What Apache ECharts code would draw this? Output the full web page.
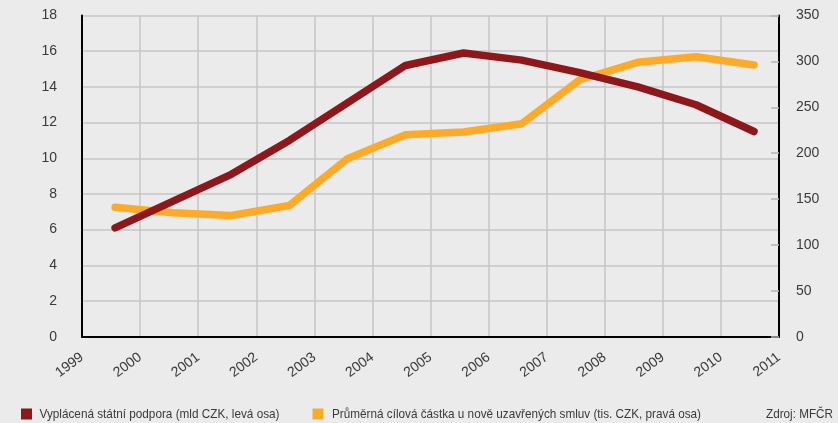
<!DOCTYPE html>
<html>
<head>
<meta charset="utf-8">
<script src="https://cdn.jsdelivr.net/npm/echarts@6/dist/echarts.min.js"></script>
<style>
html,body{margin:0;padding:0;background:#ebebeb;}
#c{width:838px;height:423px;}
</style>
</head>
<body>
<div id="c"></div>
<script>
// Data
var years = [1999, 2000, 2001, 2002, 2003, 2004, 2005, 2006, 2007, 2008, 2009, 2010];
var statePayout = [6.1, 7.6, 9.1, 11.0, 13.1, 15.2, 15.9, 15.5, 14.8, 14.0, 13.0, 11.5];      // mld CZK, left axis
var avgTarget = [141, 135, 132, 143, 194, 220, 223, 232, 280, 299, 305, 296];                  // tis. CZK, right axis
var xTickLabels = ['1999','2000','2001','2002','2003','2004','2005','2006','2007','2008','2009','2010','2011'];
var leftTicks = [0, 2, 4, 6, 8, 10, 12, 14, 16, 18];
var rightTicks = [0, 50, 100, 150, 200, 250, 300, 350];
var seriesNames = ['Vyplácená státní podpora (mld CZK, levá osa)', 'Průměrná cílová částka u nově uzavřených smluv (tis. CZK, pravá osa)'];
var sourceText = 'Zdroj: MFČR';

var MID = 0.57; // placement of each year's point within its interval

var FONT = '"Liberation Sans Narrow", "Liberation Sans", "Roboto", sans-serif';
var LFONT = '"Liberation Sans", Arial, sans-serif';
var RED = '#8e171b';
var ORANGE = '#fbab29';
var TXT = '#3a3a3a';

function pts(vals) {
  return vals.map(function (v, i) { return [years[i] + MID, v]; });
}

// measure text to horizontally condense legend labels to the reference widths
var mctx = document.createElement('canvas').getContext('2d');
function sx(text, font, target) {
  mctx.font = font;
  return target / mctx.measureText(text).width;
}
var lf = '13px ' + LFONT;

var chart = echarts.init(document.getElementById('c'), null, {renderer: 'canvas'});
chart.setOption({
  backgroundColor: '#ebebeb',
  animation: false,
  grid: {left: 82, right: 59, top: 15.5, bottom: 86.3, containLabel: false},
  xAxis: {
    type: 'value',
    min: 1999, max: 2011, interval: 1,
    axisLine: {show: true, onZero: false, lineStyle: {color: '#000', width: 2}},
    axisTick: {show: false},
    splitLine: {show: true, lineStyle: {color: '#c6c6c6', width: 1.5}},
    axisLabel: {
      rotate: 37, margin: 19, color: TXT, fontFamily: FONT, fontSize: 14,
      showMinLabel: true, showMaxLabel: true,
      formatter: function (v) { var i = Math.round(v - 1999); return xTickLabels[i] || ''; }
    }
  },
  yAxis: [{
    type: 'value', min: leftTicks[0], max: leftTicks[leftTicks.length - 1], interval: 2,
    position: 'left',
    axisLine: {show: true, lineStyle: {color: '#000', width: 2}},
    axisTick: {show: false},
    splitLine: {show: true, lineStyle: {color: '#c6c6c6', width: 1.5}},
    axisLabel: {margin: 25, color: TXT, fontFamily: FONT, fontSize: 14}
  }, {
    type: 'value', min: rightTicks[0], max: rightTicks[rightTicks.length - 1], interval: 50,
    position: 'right',
    axisLine: {show: true, lineStyle: {color: '#000', width: 2}},
    axisTick: {show: true, inside: true, length: 8, lineStyle: {color: '#b4b4b4', width: 1.5}},
    splitLine: {show: false},
    axisLabel: {margin: 17, color: TXT, fontFamily: FONT, fontSize: 14}
  }],
  graphic: [
    {type: 'rect', shape: {x: 21, y: 408.5, width: 11, height: 11}, style: {fill: RED}},
    {type: 'text', x: 39.5, y: 414, scaleX: sx(seriesNames[0], lf, 240),
     style: {text: seriesNames[0], fill: TXT, font: lf, textVerticalAlign: 'middle', verticalAlign: 'middle'}},
    {type: 'rect', shape: {x: 312.5, y: 408.5, width: 11, height: 11}, style: {fill: ORANGE}},
    {type: 'text', x: 332, y: 414, scaleX: sx(seriesNames[1], lf, 369),
     style: {text: seriesNames[1], fill: TXT, font: lf, textVerticalAlign: 'middle', verticalAlign: 'middle'}},
    {type: 'text', x: 833, y: 414, scaleX: sx(sourceText, lf, 67),
     style: {text: sourceText, fill: TXT, font: lf, align: 'right', textAlign: 'right', verticalAlign: 'middle', textVerticalAlign: 'middle'}}
  ],
  series: [{
    name: seriesNames[1], type: 'line', yAxisIndex: 1,
    data: pts(avgTarget), showSymbol: false, symbol: 'none',
    itemStyle: {color: ORANGE},
    lineStyle: {color: ORANGE, width: 7.5, cap: 'round', join: 'round'}
  }, {
    name: seriesNames[0], type: 'line', yAxisIndex: 0,
    data: pts(statePayout), showSymbol: false, symbol: 'none',
    itemStyle: {color: RED},
    lineStyle: {color: RED, width: 7.5, cap: 'round', join: 'round'}
  }]
});
</script>
</body>
</html>
